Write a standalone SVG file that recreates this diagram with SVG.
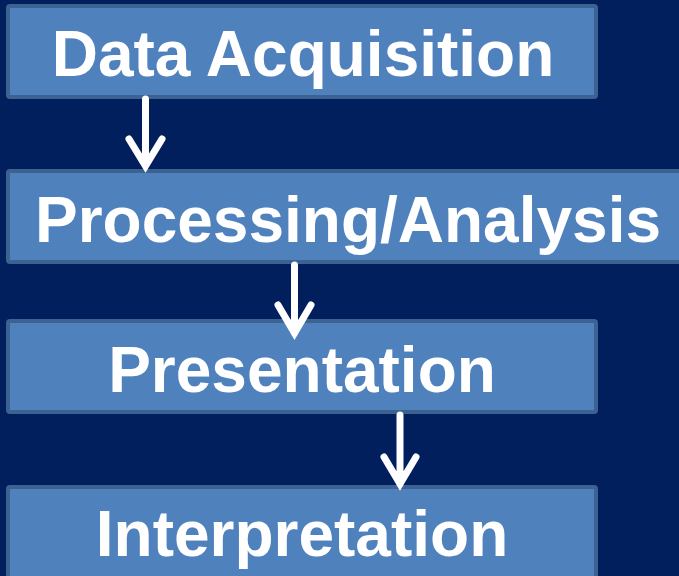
<svg xmlns="http://www.w3.org/2000/svg" width="679" height="576" viewBox="0 0 679 576">
<style>
.box{fill:#4F81BD;stroke:#3C6291;stroke-width:4}
.lbl{font-family:"Liberation Sans",Arial,sans-serif;font-weight:bold;font-size:64px;fill:#FFFFFF;text-anchor:middle}
.arr{fill:none;stroke:#FFFFFF;stroke-width:7;stroke-linecap:round;stroke-linejoin:miter}
</style>
<rect width="679" height="576" fill="#001F5C"/>
<g id="node-acquisition">
<rect class="box" x="8" y="6" width="588" height="91" rx="2"/>
<text class="lbl" x="303" y="76">Data Acquisition</text>
</g>
<g id="node-processing">
<rect class="box" x="8" y="171" width="682" height="91" rx="2"/>
<text class="lbl" x="348" y="242">Processing/Analysis</text>
</g>
<g id="node-presentation">
<rect class="box" x="8" y="321" width="588" height="91" rx="2"/>
<text class="lbl" x="302" y="392">Presentation</text>
</g>
<g id="node-interpretation">
<rect class="box" x="8" y="487" width="588" height="91" rx="2"/>
<text class="lbl" x="302" y="556">Interpretation</text>
</g>
<g id="connectors">
<path class="arr" d="M145.5,99 V165 M129,139 L145.5,166 L162,139"/>
<path class="arr" d="M294.5,265 V333 M278,305 L294.5,333 L311,305"/>
<path class="arr" d="M400,415 V484 M384,457 L400,484 L416,457"/>
</g>
</svg>
